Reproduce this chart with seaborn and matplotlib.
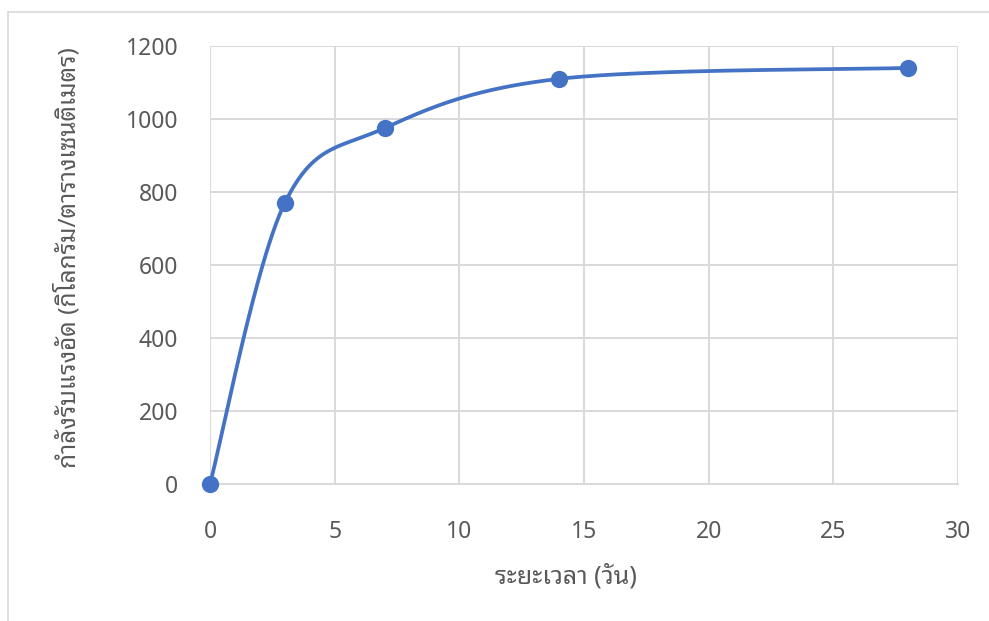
import matplotlib
matplotlib.use("Agg")
import matplotlib.pyplot as plt
from matplotlib.lines import Line2D
import numpy as np
import pandas as pd
import seaborn as sns

# Compressive strength of concrete by curing age
days = [0, 3, 7, 14, 28]
strength = [0, 770, 975, 1110, 1140]
x_ticks = [0, 5, 10, 15, 20, 25, 30]
y_ticks = [0, 200, 400, 600, 800, 1000, 1200]
x_label = "ระยะเวลา (วัน)"
y_label = "กำลังรับแรงอัด (กิโลกรัม/ตารางเซนติเมตร)"

LINE = "#4472C4"
GRID = "#D9D9D9"
TEXT = "#595959"
FONT = ["Noto Sans Thai Looped", "DejaVu Sans"]


def smooth_curve(xs, ys, steps=60):
    """Cubic Bezier through the points with Catmull-Rom style control points."""
    p = np.column_stack([xs, ys]).astype(float)
    n = len(p)
    out = []
    for i in range(n - 1):
        p0 = p[i - 1] if i > 0 else p[i]
        p1, p2 = p[i], p[i + 1]
        p3 = p[i + 2] if i + 2 < n else p[i + 1]
        c1 = p1 + (p2 - p0) / 6.0
        c2 = p2 - (p3 - p1) / 6.0
        t = np.linspace(0, 1, steps)[:, None]
        seg = ((1 - t) ** 3) * p1 + 3 * ((1 - t) ** 2) * t * c1 + 3 * (1 - t) * t ** 2 * c2 + t ** 3 * p2
        out.append(seg if i == 0 else seg[1:])
    return np.vstack(out)


sns.set_theme(style="white")
plt.rcParams["font.family"] = FONT
plt.rcParams["font.weight"] = "light"

points = pd.DataFrame({"day": days, "strength": strength})
curve_xy = smooth_curve(days, strength)
curve = pd.DataFrame({"day": curve_xy[:, 0], "strength": curve_xy[:, 1]})

fig = plt.figure(figsize=(9.89, 6.21), dpi=100)
ax = fig.add_axes([210 / 989, 1 - 484 / 621, 748 / 989, 438 / 621])

sns.lineplot(data=curve, x="day", y="strength", sort=False, color=LINE,
             linewidth=2.7, ax=ax, zorder=3, solid_capstyle="round")
sns.scatterplot(data=points, x="day", y="strength", color=LINE, s=155,
                edgecolor=LINE, linewidth=0, ax=ax, zorder=4, clip_on=False)

ax.set_xlim(0, 30)
ax.set_ylim(0, 1200)
ax.set_xticks(x_ticks)
ax.set_yticks(y_ticks)
ax.grid(True, color=GRID, linewidth=1.4)
ax.set_axisbelow(True)
for side in ["top", "right", "left"]:
    ax.spines[side].set_visible(False)
ax.spines["bottom"].set_color(GRID)
ax.spines["bottom"].set_linewidth(1.4)
ax.tick_params(axis="both", length=0, labelsize=16.5, labelcolor=TEXT)
ax.tick_params(axis="x", pad=26)
ax.tick_params(axis="y", pad=23)

ax.set_xlabel(x_label, fontsize=18, color=TEXT, fontweight="light")
ax.set_ylabel(y_label, fontsize=17.5, color=TEXT, fontweight="light")
ax.xaxis.set_label_coords((566 - 210) / 748, -(577 - 484) / 438)
ax.yaxis.set_label_coords(-(210 - 68) / 748, (484 - 258) / 438)
ax.xaxis.label.set_va("center")
ax.yaxis.label.set_va("center")

# Chart area border
fig.add_artist(Line2D([8 / 989, 8 / 989], [0, 1 - 12 / 621], transform=fig.transFigure,
                      color=GRID, linewidth=1.2))
fig.add_artist(Line2D([8 / 989, 1], [1 - 12 / 621, 1 - 12 / 621], transform=fig.transFigure,
                      color=GRID, linewidth=1.2))

fig.savefig("out.png", dpi=100, facecolor="white")
